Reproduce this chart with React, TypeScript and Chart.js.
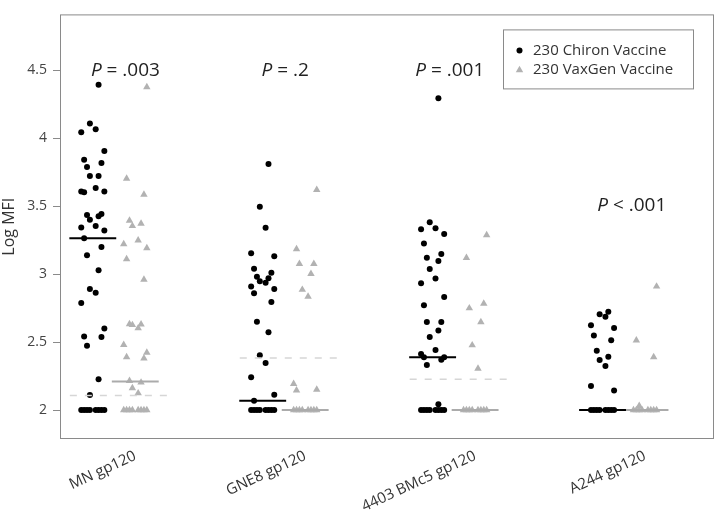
import React, { useEffect, useRef } from "react";
import { Chart, registerables } from "chart.js";

Chart.register(...registerables);

// ---------------- data ----------------
const categories = ["MN gp120", "GNE8 gp120", "4403 BMc5 gp120", "A244 gp120"];
const seriesLabels = ["230 Chiron Vaccine", "230 VaxGen Vaccine"];
const yTicks = [2, 2.5, 3, 3.5, 4, 4.5];

// Log MFI values and the jitter slot (column in the dot strip) of every point
const mnChiron = [4.393, 4.108, 4.044, 4.065, 3.905, 3.841, 3.817, 3.788, 3.722, 3.722, 3.607, 3.602, 3.633, 3.607, 3.435, 3.442, 3.426, 3.399, 3.354, 3.342, 3.32, 3.263, 3.199, 3.139, 3.029, 2.891, 2.862, 2.788, 2.599, 2.54, 2.537, 2.473, 2.227, 2.11, 2, 2, 2, 2, 2, 2, 2, 2];
const mnChironSlots = [2, -1, -4, 1, 4, -3, 3, -2, -1, 2, -4, -3, 1, 4, -2, 3, 2, -1, 1, -4, 4, -3, 3, -2, 2, -1, 1, -4, 4, -3, 3, -2, 2, -1, -4, -3, -2, -1, 1, 2, 3, 4];
const mnVaxgen = [4.376, 3.702, 3.585, 3.394, 3.354, 3.371, 3.22, 3.249, 3.191, 3.11, 2.96, 2.633, 2.626, 2.63, 2.602, 2.48, 2.389, 2.423, 2.38, 2.215, 2.203, 2.162, 2.124, 2, 2, 2, 2, 2, 2, 2, 2];
const mnVaxgenSlots = [4, -3, 3, -2, -1, 2, -4, 1, 4, -3, 3, -2, -1, 2, 1, -4, -3, 4, 3, -2, 2, -1, 1, -4, -3, -2, -1, 1, 2, 3, 4];

const gne8Chiron = [3.809, 3.496, 3.341, 3.153, 3.131, 3.04, 3.009, 2.981, 2.969, 2.948, 2.936, 2.909, 2.89, 2.859, 2.795, 2.649, 2.573, 2.403, 2.346, 2.241, 2.112, 2.069, 2, 2, 2, 2, 2, 2, 2, 2];
const gne8ChironSlots = [2, -1, 1, -4, 4, -3, 3, -2, 2, -1, 1, -4, 4, -3, 3, -2, 2, -1, 1, -4, 4, -3, -4, -3, -2, -1, 1, 2, 3, 4];
const gne8Vaxgen = [3.619, 3.184, 3.076, 3.076, 3.002, 2.885, 2.835, 2.193, 2.145, 2.15, 2, 2, 2, 2, 2, 2, 2, 2];
const gne8VaxgenSlots = [4, -3, -2, 3, 2, -1, 1, -4, -3, 4, -4, -3, -2, -1, 1, 2, 3, 4];

const bmc5Chiron = [4.294, 3.382, 3.33, 3.337, 3.294, 3.225, 3.148, 3.12, 3.096, 3.038, 2.967, 2.933, 2.831, 2.771, 2.647, 2.647, 2.585, 2.537, 2.442, 2.413, 2.389, 2.389, 2.37, 2.332, 2.043, 2, 2, 2, 2, 2, 2, 2, 2];
const bmc5ChironSlots = [2, -1, -4, 1, 4, -3, 3, -2, 2, -1, 1, -4, 4, -3, -2, 3, 2, -1, 1, -4, -3, 4, 3, -2, 2, -4, -3, -2, -1, 1, 2, 3, 4];
const bmc5Vaxgen = [3.287, 3.12, 2.783, 2.749, 2.647, 2.477, 2.305, 2, 2, 2, 2, 2, 2, 2, 2];
const bmc5VaxgenSlots = [4, -3, 3, -2, 2, -1, 1, -4, -3, -2, -1, 1, 2, 3, 4];

const a244Chiron = [2.723, 2.704, 2.687, 2.623, 2.604, 2.549, 2.513, 2.437, 2.392, 2.368, 2.324, 2.176, 2.143, 2, 2, 2, 2, 2, 2, 2, 2];
const a244ChironSlots = [2, -1, 1, -4, 4, -3, 3, -2, 2, -1, 1, -4, 4, -4, -3, -2, -1, 1, 2, 3, 4];
const a244Vaxgen = [2.909, 2.513, 2.389, 2.031, 2, 2, 2, 2, 2, 2, 2, 2];
const a244VaxgenSlots = [4, -3, 3, -2, -4, -3, -2, -1, 1, 2, 3, 4];

const chironMedians = [3.263, 2.069, 2.389, 2.0];
const vaxgenMedians = [2.21, 2.0, 2.0, 2.0];
const referenceLevels = [2.107, 2.382, 2.227, null];

const pTexts = ["= .003", "= .2", "= .001", "< .001"];
const pHeights = [4.5, 4.5, 4.5, 3.505];
const pCenters = [0.942, 1.882, 2.851, 3.922];

// ---------------- styling / layout constants ----------------
const FONT = "'Open Sans', 'DejaVu Sans', sans-serif";
const BLACK = "#000000";
const GRAY = "#b2b2b2";
const GRAY_LINE = "#ababab";
const DASH = "#d6d6d6";
const chironShift = -0.25;
const slotStep = 0.017;
const medianHalf = 0.138;
const refLeft = -0.385;
const refRight = 0.218;

const chironGroups = [mnChiron, gne8Chiron, bmc5Chiron, a244Chiron];
const chironSlotGroups = [mnChironSlots, gne8ChironSlots, bmc5ChironSlots, a244ChironSlots];
const vaxgenGroups = [mnVaxgen, gne8Vaxgen, bmc5Vaxgen, a244Vaxgen];
const vaxgenSlotGroups = [mnVaxgenSlots, gne8VaxgenSlots, bmc5VaxgenSlots, a244VaxgenSlots];

function buildPoints(groups: number[][], slots: number[][], shift: number) {
  const pts: { x: number; y: number }[] = [];
  groups.forEach((vals, g) => {
    vals.forEach((v, i) => {
      pts.push({ x: g + 1 + shift + slots[g][i] * slotStep, y: v });
    });
  });
  return pts;
}

const framePlugin = {
  id: "frame",
  beforeDatasetsDraw(chart: any) {
    const { ctx, chartArea: a } = chart;
    ctx.save();
    ctx.strokeStyle = "#8a8a8a";
    ctx.lineWidth = 1;
    ctx.strokeRect(a.left + 0.5, a.top + 0.5, a.right - a.left - 1, a.bottom - a.top - 1);
    ctx.restore();
  },
};

const pValuePlugin = {
  id: "pvalues",
  afterDatasetsDraw(chart: any) {
    const { ctx } = chart;
    const xs = chart.scales.x;
    const ys = chart.scales.y;
    ctx.save();
    ctx.fillStyle = "#222";
    ctx.textBaseline = "middle";
    ctx.textAlign = "left";
    pTexts.forEach((t, i) => {
      const cx = xs.getPixelForValue(pCenters[i]);
      const cy = ys.getPixelForValue(pHeights[i]);
      ctx.font = `italic 19px ${FONT}`;
      const wP = ctx.measureText("P").width;
      ctx.font = `19px ${FONT}`;
      const rest = " " + t;
      const wR = ctx.measureText(rest).width;
      const x0 = cx - (wP + wR) / 2;
      ctx.font = `italic 19px ${FONT}`;
      ctx.fillText("P", x0, cy);
      ctx.font = `19px ${FONT}`;
      ctx.fillText(rest, x0 + wP, cy);
    });
    ctx.restore();
  },
};

const legendPlugin = {
  id: "boxLegend",
  afterDraw(chart: any) {
    const { ctx, chartArea: a } = chart;
    const w = 190;
    const h = 59;
    const left = a.right - 21 - w;
    const top = a.top + 15;
    ctx.save();
    ctx.fillStyle = "#ffffff";
    ctx.fillRect(left, top, w, h);
    ctx.strokeStyle = "#8a8a8a";
    ctx.lineWidth = 1;
    ctx.strokeRect(left + 0.5, top + 0.5, w, h);
    const ds = chart.data.datasets;
    ctx.font = `15px ${FONT}`;
    ctx.textBaseline = "middle";
    ctx.textAlign = "left";
    [0, 1].forEach((k) => {
      const y = top + 21 + k * 19.7;
      const mx = left + 16.5;
      const d = ds[k];
      ctx.fillStyle = d.backgroundColor;
      ctx.beginPath();
      if (d.pointStyle === "triangle") {
        const r = d.pointRadius;
        ctx.moveTo(mx, y - r);
        ctx.lineTo(mx + r * Math.sin((2 * Math.PI) / 3), y - r * Math.cos((2 * Math.PI) / 3));
        ctx.lineTo(mx + r * Math.sin((4 * Math.PI) / 3), y - r * Math.cos((4 * Math.PI) / 3));
        ctx.closePath();
      } else {
        ctx.arc(mx, y, d.pointRadius, 0, Math.PI * 2);
      }
      ctx.fill();
      ctx.fillStyle = "#333";
      ctx.fillText(d.label, left + 30, y);
    });
    ctx.restore();
  },
};

export default function App() {
  const ref = useRef<HTMLCanvasElement | null>(null);

  useEffect(() => {
    if (!ref.current) return;
    const lineSets: any[] = [];
    categories.forEach((_, g) => {
      const bc = g + 1 + chironShift;
      const gc = g + 1;
      lineSets.push({
        type: "line",
        label: "chiron median",
        data: [
          { x: bc - medianHalf, y: chironMedians[g] },
          { x: bc + medianHalf, y: chironMedians[g] },
        ],
        borderColor: BLACK,
        borderWidth: 2,
        pointRadius: 0,
        order: 0,
      });
      lineSets.push({
        type: "line",
        label: "vaxgen median",
        data: [
          { x: gc - medianHalf, y: vaxgenMedians[g] },
          { x: gc + medianHalf, y: vaxgenMedians[g] },
        ],
        borderColor: GRAY_LINE,
        borderWidth: 2,
        pointRadius: 0,
        order: 0,
      });
      const lvl = referenceLevels[g];
      if (lvl !== null) {
        lineSets.push({
          type: "line",
          label: "reference",
          data: [
            { x: gc + refLeft, y: lvl },
            { x: gc + refRight, y: lvl },
          ],
          borderColor: DASH,
          borderWidth: 1.5,
          borderDash: [7, 8],
          pointRadius: 0,
          order: 0,
        });
      }
    });

    const chart = new Chart(ref.current, {
      type: "scatter",
      data: {
        datasets: [
          {
            label: seriesLabels[0],
            data: buildPoints(chironGroups, chironSlotGroups, chironShift),
            backgroundColor: BLACK,
            borderWidth: 0,
            pointStyle: "circle",
            pointRadius: 3.0,
            order: 1,
          } as any,
          {
            label: seriesLabels[1],
            data: buildPoints(vaxgenGroups, vaxgenSlotGroups, 0),
            backgroundColor: GRAY,
            borderWidth: 0,
            pointStyle: "triangle",
            pointRadius: 4.3,
            order: 2,
          } as any,
          ...lineSets,
        ],
      },
      options: {
        animation: false,
        responsive: false,
        layout: { padding: { top: 3, right: 6, left: 0, bottom: 0 } },
        plugins: {
          legend: { display: false },
          tooltip: { enabled: false },
        },
        scales: {
          x: {
            type: "linear",
            min: 0.557,
            max: 4.406,
            grid: { display: false },
            border: { display: false },
            afterFit: (s: any) => {
              s.height = 71;
            },
            afterBuildTicks: (s: any) => {
              s.ticks = categories.map((_, i) => ({ value: i + 1 }));
            },
            ticks: {
              autoSkip: false,
              minRotation: 25,
              maxRotation: 25,
              padding: 0,
              color: "#333",
              font: { family: FONT, size: 15 },
              callback: (v: any) => categories[Math.round(Number(v)) - 1] ?? "",
            },
          },
          y: {
            min: 1.787,
            max: 4.91,
            afterFit: (s: any) => {
              s.width = 60;
            },
            afterBuildTicks: (s: any) => {
              s.ticks = yTicks.map((v) => ({ value: v }));
            },
            grid: { drawOnChartArea: false, tickLength: 7, color: "#8a8a8a" },
            border: { display: false },
            ticks: {
              padding: 6,
              color: "#444",
              font: { family: FONT, size: 14 },
              callback: (v: any) => String(v),
            },
            title: {
              display: true,
              text: "Log MFI",
              padding: 0,
              color: "#333",
              font: { family: FONT, size: 16 },
            },
          },
        },
      } as any,
      plugins: [framePlugin, pValuePlugin, legendPlugin],
    });
    return () => chart.destroy();
  }, []);

  return (
    <canvas
      ref={ref}
      width={720}
      height={510}
      style={{ position: "absolute", left: 0, top: 0, display: "block", background: "#fff" }}
    />
  );
}
